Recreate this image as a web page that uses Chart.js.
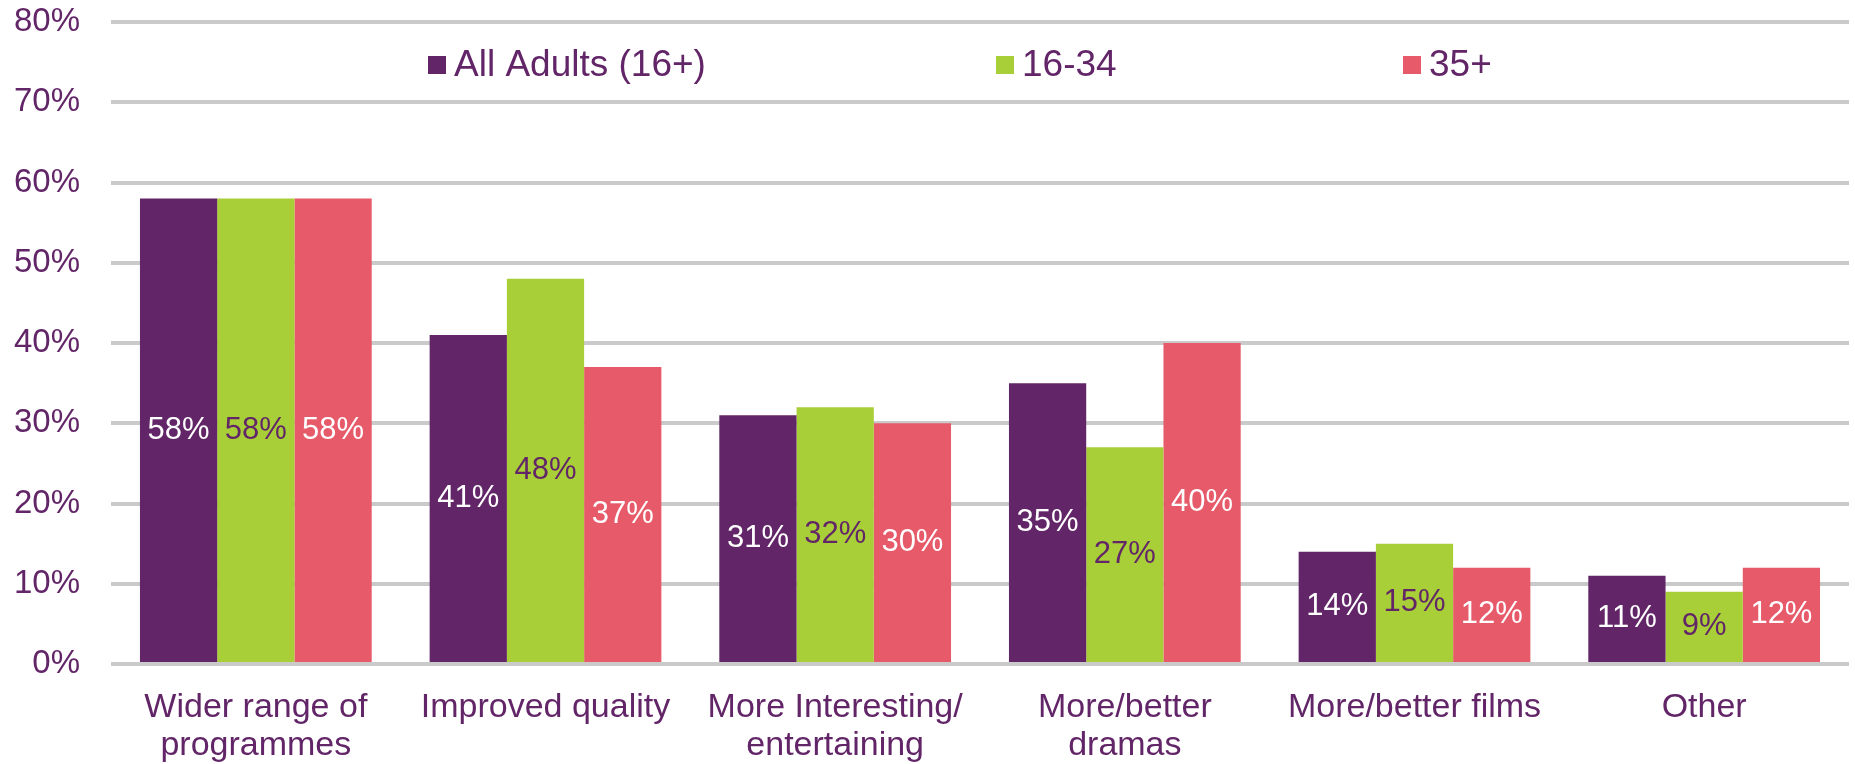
<!DOCTYPE html>
<html>
<head>
<meta charset="utf-8">
<script src="https://cdn.jsdelivr.net/npm/chart.js@4"></script>
<style>
  html, body { margin: 0; padding: 0; background: #fff; }
  #wrap { width: 1855px; height: 764px; }
</style>
</head>
<body>
<div id="wrap"><canvas id="chart" width="1855" height="764"></canvas></div>
<script>
// categories and values
const categories = [
  ['Wider range of', 'programmes'],
  'Improved quality',
  ['More Interesting/', 'entertaining'],
  ['More/better', 'dramas'],
  'More/better films',
  'Other'
];
const allAdults = [58, 41, 31, 35, 14, 11];
const age16to34 = [58, 48, 32, 27, 15, 9];
const age35plus = [58, 37, 30, 40, 12, 12];
const seriesNames = ['All Adults (16+)', '16-34', '35+'];
const yTickValues = [0, 10, 20, 30, 40, 50, 60, 70, 80];

const purple = '#622567';
const green = '#a9cf38';
const red = '#e65a6a';
const fontFamily = '"Liberation Sans", Arial, sans-serif';

// legend sits inside the plot, like the original
const legendX = [428, 996, 1403];
const innerLegend = {
  id: 'innerLegend',
  afterDraw(chart) {
    const ctx = chart.ctx;
    ctx.save();
    ctx.font = '37px ' + fontFamily;
    ctx.textBaseline = 'middle';
    ctx.textAlign = 'left';
    chart.data.datasets.forEach((ds, i) => {
      ctx.fillStyle = ds.backgroundColor;
      ctx.fillRect(legendX[i], 56, 18, 18);
      ctx.fillStyle = purple;
      ctx.fillText(ds.label, legendX[i] + 26, 66);
    });
    ctx.restore();
  }
};

// value labels in the middle of each bar
const barLabels = {
  id: 'barLabels',
  afterDatasetsDraw(chart) {
    const ctx = chart.ctx;
    ctx.save();
    ctx.font = '31px ' + fontFamily;
    ctx.textAlign = 'center';
    ctx.textBaseline = 'middle';
    chart.data.datasets.forEach((ds, i) => {
      const meta = chart.getDatasetMeta(i);
      ctx.fillStyle = ds.labelColor;
      meta.data.forEach((bar, j) => {
        const y = (bar.y + bar.base) / 2;
        ctx.fillText(ds.data[j] + '%', bar.x, y);
      });
    });
    ctx.restore();
  }
};

const ctx = document.getElementById('chart').getContext('2d');
new Chart(ctx, {
  type: 'bar',
  data: {
    labels: categories,
    datasets: [
      { label: seriesNames[0], data: allAdults, backgroundColor: purple, labelColor: '#ffffff' },
      { label: seriesNames[1], data: age16to34, backgroundColor: green, labelColor: purple },
      { label: seriesNames[2], data: age35plus, backgroundColor: red, labelColor: '#ffffff' }
    ]
  },
  options: {
    responsive: false,
    animation: false,
    layout: { padding: { top: 22, right: 6, left: 0, bottom: 0 } },
    datasets: {
      bar: { categoryPercentage: 0.8, barPercentage: 1.0 }
    },
    plugins: {
      legend: { display: false },
      tooltip: { enabled: false }
    },
    scales: {
      x: {
        grid: { display: false },
        border: { display: false },
        ticks: {
          color: purple,
          font: { family: fontFamily, size: 34, lineHeight: 1.12 },
          padding: 17,
          maxRotation: 0,
          autoSkip: false
        },
        afterFit(scale) {
          scale.height = 100;
          scale.paddingLeft = 0;
          scale.paddingRight = 0;
        }
      },
      y: {
        min: 0,
        max: 80,
        afterBuildTicks(scale) {
          scale.ticks = yTickValues.map(v => ({ value: v }));
        },
        grid: { color: '#cacaca', lineWidth: 4, drawTicks: false },
        border: { display: false },
        ticks: {
          color: purple,
          font: { family: fontFamily, size: 33 },
          padding: 31,
          callback: v => v + '%'
        },
        afterFit(scale) {
          scale.width = 111;
          scale.paddingTop = 0;
          scale.paddingBottom = 0;
        }
      }
    }
  },
  plugins: [innerLegend, barLabels]
});
</script>
</body>
</html>
